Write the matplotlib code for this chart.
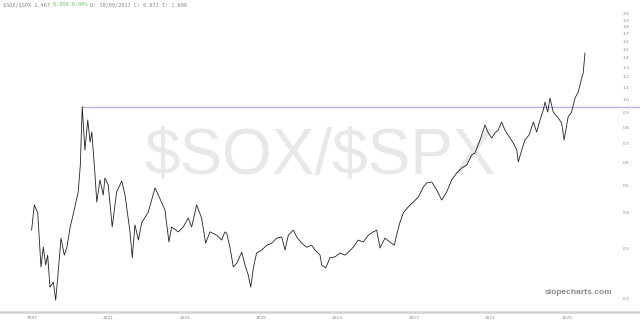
import matplotlib
matplotlib.use("Agg")
import matplotlib.pyplot as plt
import matplotlib.transforms as mtransforms
import numpy as np

# ---- data ----
years = [1996.98, 1997.12, 1997.30, 1997.47, 1997.59, 1997.72, 1997.82, 1997.94,
         1998.12, 1998.24, 1998.35, 1998.52, 1998.69, 1998.82, 1998.99, 1999.21,
         1999.42, 1999.53, 1999.63, 1999.77, 1999.92, 2000.04, 2000.13, 2000.30,
         2000.39, 2000.56, 2000.73, 2000.82, 2000.99, 2001.20, 2001.43, 2001.70,
         2001.87, 2002.13, 2002.25, 2002.39, 2002.57, 2002.74, 2003.09, 2003.44,
         2003.61, 2003.96, 2004.17, 2004.31, 2004.66, 2004.92, 2005.18, 2005.36,
         2005.62, 2005.88, 2006.09, 2006.32, 2006.67, 2006.93, 2007.10, 2007.19,
         2007.37, 2007.54, 2007.72, 2007.98, 2008.15, 2008.32, 2008.45, 2008.59,
         2008.76, 2009.03, 2009.29, 2009.55, 2009.81, 2010.07, 2010.25, 2010.42,
         2010.68, 2010.86, 2011.12, 2011.38, 2011.64, 2011.82, 2012.08, 2012.17,
         2012.38, 2012.60, 2012.86, 2013.13, 2013.39, 2013.56, 2013.82, 2014.08,
         2014.35, 2014.61, 2014.87, 2015.05, 2015.22, 2015.48, 2015.74, 2015.97,
         2016.09, 2016.27, 2016.44, 2016.70, 2016.96, 2017.23, 2017.49, 2017.66,
         2017.93, 2018.19, 2018.45, 2018.71, 2018.97, 2019.24, 2019.50, 2019.76,
         2020.02, 2020.19, 2020.46, 2020.72, 2020.89, 2021.07, 2021.24, 2021.41,
         2021.59, 2021.76, 2022.03, 2022.20, 2022.38, 2022.46, 2022.64, 2022.81,
         2023.02, 2023.25, 2023.42, 2023.60, 2023.77, 2023.86, 2024.00, 2024.12,
         2024.29, 2024.55, 2024.73, 2024.86, 2025.07, 2025.25, 2025.43, 2025.60,
         2025.78, 2025.86, 2025.95]
ratio = [0.349, 0.428, 0.401, 0.259, 0.304, 0.263, 0.285, 0.220,
         0.229, 0.198, 0.239, 0.327, 0.285, 0.302, 0.355, 0.411,
         0.475, 0.591, 0.947, 0.667, 0.851, 0.712, 0.772, 0.545,
         0.438, 0.524, 0.464, 0.532, 0.503, 0.358, 0.475, 0.519,
         0.464, 0.344, 0.279, 0.364, 0.322, 0.370, 0.404, 0.491,
         0.464, 0.411, 0.317, 0.358, 0.344, 0.358, 0.385, 0.358,
         0.428, 0.385, 0.314, 0.344, 0.335, 0.322, 0.344, 0.341,
         0.302, 0.259, 0.267, 0.292, 0.263, 0.243, 0.220, 0.257,
         0.290, 0.297, 0.309, 0.314, 0.327, 0.330, 0.297, 0.335,
         0.349, 0.330, 0.314, 0.304, 0.309, 0.297, 0.285, 0.263,
         0.257, 0.279, 0.281, 0.290, 0.285, 0.292, 0.304, 0.322,
         0.317, 0.335, 0.344, 0.349, 0.302, 0.327, 0.317, 0.309,
         0.335, 0.373, 0.401, 0.421, 0.438, 0.456, 0.495, 0.511,
         0.515, 0.483, 0.445, 0.475, 0.524, 0.554, 0.577, 0.591,
         0.641, 0.651, 0.724, 0.817, 0.766, 0.735, 0.766, 0.784,
         0.837, 0.784, 0.735, 0.706, 0.667, 0.606, 0.667, 0.724,
         0.753, 0.837, 0.772, 0.851, 0.922, 0.984, 0.907, 1.016,
         0.907, 0.865, 0.830, 0.724, 0.872, 0.907, 1.016, 1.067,
         1.195, 1.244, 1.463]

level = 0.947
level_start = 1999.63

xtick_years = [1997, 2001, 2005, 2009, 2013, 2017, 2021, 2025]
xtick_labels = ["1997", "2001", "2005", "2009", "2013", "2017", "2021", "2025"]
ytick_values = [0.2, 0.3, 0.4, 0.5, 0.6, 0.7, 0.8, 0.9, 1.0, 1.1, 1.2, 1.3,
                1.4, 1.5, 1.6, 1.7, 1.8, 1.9, 2.0]
ytick_labels = ["0.2", "0.3", "0.4", "0.5", "0.6", "0.7", "0.8", "0.9", "1.0",
                "1.1", "1.2", "1.3", "1.4", "1.5", "1.6", "1.7", "1.8", "1.9", "2.0"]

header = "$SOX/$SPX 1.467"
header_green = "0.000 0.00%"
header_rest = "D: 10/09/2017 C: 0.672 T: 1.600"
watermark = "$SOX/$SPX"
brand = "slopecharts.com"

# ---- figure ----
W, H = 640, 325
fig = plt.figure(figsize=(W / 100, H / 100), dpi=100)
ax = fig.add_axes([0, 13 / H, 1, 312 / H])
ax.set_yscale("log")
px_per_year = 19.1
x0 = 1997 - 32 / px_per_year
x1 = 1997 + (W - 32) / px_per_year
ax.set_xlim(x0, x1)
ax.set_ylim(np.exp(-212 / 123.6), np.exp(100 / 123.6))
for s in ax.spines.values():
    s.set_visible(False)
ax.set_xticks([])
ax.set_yticks([])
ax.yaxis.set_minor_locator(matplotlib.ticker.NullLocator())

# watermark
ax.text(0.5, 1 - 157 / 312, watermark, transform=ax.transAxes, ha="center",
        va="center", fontsize=46, color="#e8e8e8", family="Liberation Sans",
        zorder=0, parse_math=False)

# horizontal level line
ax.plot([level_start, x1], [level, level], color="#b4b4f0", lw=1.0, zorder=2)

# series
ax.plot(years, ratio, color="#222222", lw=0.6, zorder=3)

# y tick labels (inside on right)
trans_y = mtransforms.blended_transform_factory(ax.transAxes, ax.transData)
for v, lab in zip(ytick_values, ytick_labels):
    ax.text(626 / W, v, lab, transform=trans_y, ha="center", va="center",
            fontsize=3.2, color="#888888")

# bottom gray line
fig.add_artist(plt.Line2D([0, 1], [13 / H, 13 / H], transform=fig.transFigure,
                          color="#d4d4d4", lw=1.8))

# x tick labels
trans_x = mtransforms.blended_transform_factory(ax.transData, fig.transFigure)
for yv, lab in zip(xtick_years, xtick_labels):
    ax.text(yv, 1 - 318 / H, lab, transform=trans_x, ha="center", va="center",
            fontsize=3.2, color="#888888", clip_on=False)

# brand
fig.text(578 / W, 1 - 293 / H, brand, ha="center", va="center", fontsize=6,
         color="#8a8a8a", fontweight="bold", family="Liberation Sans")

# header
t = fig.text(3 / W, 1 - 5 / H, header + " ", ha="left", va="center",
             fontsize=3.8, color="#888888", family="DejaVu Sans Mono",
             parse_math=False)
fig.canvas.draw()
bb = t.get_window_extent()
t2 = fig.text(bb.x1 / W, 1 - 5 / H, header_green + " ", ha="left", va="center",
              fontsize=3.8, color="#6fbf6f", family="DejaVu Sans Mono")
fig.canvas.draw()
bb2 = t2.get_window_extent()
fig.text(bb2.x1 / W, 1 - 5 / H, header_rest, ha="left", va="center",
         fontsize=3.8, color="#888888", family="DejaVu Sans Mono")

fig.savefig("out.png", dpi=100, facecolor="white")
